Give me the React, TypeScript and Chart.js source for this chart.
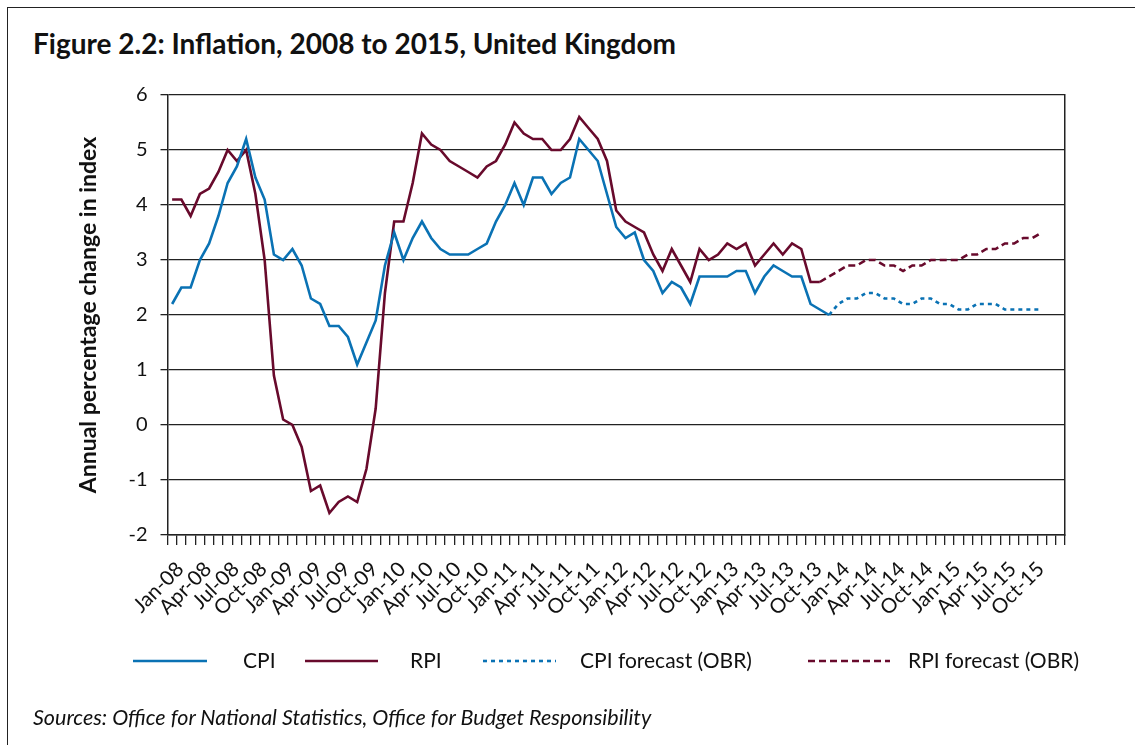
import React, { useEffect, useRef } from "react";
import { Chart, registerables } from "chart.js";
Chart.register(...registerables);

const categories: string[] = [
  "Jan-08","Feb-08","Mar-08","Apr-08","May-08","Jun-08","Jul-08","Aug-08","Sep-08","Oct-08","Nov-08","Dec-08",
  "Jan-09","Feb-09","Mar-09","Apr-09","May-09","Jun-09","Jul-09","Aug-09","Sep-09","Oct-09","Nov-09","Dec-09",
  "Jan-10","Feb-10","Mar-10","Apr-10","May-10","Jun-10","Jul-10","Aug-10","Sep-10","Oct-10","Nov-10","Dec-10",
  "Jan-11","Feb-11","Mar-11","Apr-11","May-11","Jun-11","Jul-11","Aug-11","Sep-11","Oct-11","Nov-11","Dec-11",
  "Jan-12","Feb-12","Mar-12","Apr-12","May-12","Jun-12","Jul-12","Aug-12","Sep-12","Oct-12","Nov-12","Dec-12",
  "Jan-13","Feb-13","Mar-13","Apr-13","May-13","Jun-13","Jul-13","Aug-13","Sep-13","Oct-13","Nov-13","Dec-13",
  "Jan-14","Feb-14","Mar-14","Apr-14","May-14","Jun-14","Jul-14","Aug-14","Sep-14","Oct-14","Nov-14","Dec-14",
  "Jan-15","Feb-15","Mar-15","Apr-15","May-15","Jun-15","Jul-15","Aug-15","Sep-15","Oct-15","Nov-15","Dec-15",
  "",
];

// Jan-08 .. Dec-13
const cpiActual: number[] = [
  2.2, 2.5, 2.5, 3.0, 3.3, 3.8, 4.4, 4.7, 5.2, 4.5, 4.1, 3.1,
  3.0, 3.2, 2.9, 2.3, 2.2, 1.8, 1.8, 1.6, 1.1, 1.5, 1.9, 2.9,
  3.5, 3.0, 3.4, 3.7, 3.4, 3.2, 3.1, 3.1, 3.1, 3.2, 3.3, 3.7,
  4.0, 4.4, 4.0, 4.5, 4.5, 4.2, 4.4, 4.5, 5.2, 5.0, 4.8, 4.2,
  3.6, 3.4, 3.5, 3.0, 2.8, 2.4, 2.6, 2.5, 2.2, 2.7, 2.7, 2.7,
  2.7, 2.8, 2.8, 2.4, 2.7, 2.9, 2.8, 2.7, 2.7, 2.2, 2.1, 2.0,
];

// Jan-08 .. Nov-13
const rpiActual: number[] = [
  4.1, 4.1, 3.8, 4.2, 4.3, 4.6, 5.0, 4.8, 5.0, 4.2, 3.0, 0.9,
  0.1, 0.0, -0.4, -1.2, -1.1, -1.6, -1.4, -1.3, -1.4, -0.8, 0.3, 2.4,
  3.7, 3.7, 4.4, 5.3, 5.1, 5.0, 4.8, 4.7, 4.6, 4.5, 4.7, 4.8,
  5.1, 5.5, 5.3, 5.2, 5.2, 5.0, 5.0, 5.2, 5.6, 5.4, 5.2, 4.8,
  3.9, 3.7, 3.6, 3.5, 3.1, 2.8, 3.2, 2.9, 2.6, 3.2, 3.0, 3.1,
  3.3, 3.2, 3.3, 2.9, 3.1, 3.3, 3.1, 3.3, 3.2, 2.6, 2.6,
];

// Dec-13 .. Nov-15
const cpiForecast: number[] = [
  2.0, 2.2, 2.3, 2.3, 2.4, 2.4, 2.3, 2.3, 2.2, 2.2, 2.3, 2.3,
  2.2, 2.2, 2.1, 2.1, 2.2, 2.2, 2.2, 2.1, 2.1, 2.1, 2.1, 2.1,
];

// Nov-13 .. Nov-15
const rpiForecast: number[] = [
  2.6, 2.7, 2.8, 2.9, 2.9, 3.0, 3.0, 2.9, 2.9, 2.8, 2.9, 2.9, 3.0,
  3.0, 3.0, 3.0, 3.1, 3.1, 3.2, 3.2, 3.3, 3.3, 3.4, 3.4, 3.5,
];

const yTicks: number[] = [-2, -1, 0, 1, 2, 3, 4, 5, 6];

const CPI_COLOR = "#0a72b4";
const RPI_COLOR = "#680a2c";
const FONT = "Lato";
const TEXT = "#111";

// legend layout (line start, line end, text x)
const LEGEND_Y = 661;
const LEGEND_POS = [
  { x0: 133, x1: 207, tx: 243 },
  { x0: 305, x1: 378, tx: 410 },
  { x0: 483, x1: 556, tx: 580 },
  { x0: 808, x1: 890, tx: 908 },
];

function place(values: number[], start: number): (number | null)[] {
  const out: (number | null)[] = categories.map(() => null);
  values.forEach((v, i) => {
    out[start + i] = v;
  });
  return out;
}

const legendPlugin = {
  id: "customLegend",
  afterDraw(chart: any) {
    const ctx = chart.ctx as CanvasRenderingContext2D;
    ctx.save();
    chart.data.datasets.forEach((ds: any, i: number) => {
      const p = LEGEND_POS[i];
      if (!p) return;
      ctx.strokeStyle = ds.borderColor;
      ctx.lineWidth = ds.borderWidth;
      ctx.setLineDash(ds.borderDash || []);
      ctx.lineCap = "butt";
      ctx.beginPath();
      ctx.moveTo(p.x0, LEGEND_Y);
      ctx.lineTo(p.x1, LEGEND_Y);
      ctx.stroke();
      ctx.setLineDash([]);
      ctx.fillStyle = TEXT;
      ctx.font = `21px ${FONT}`;
      ctx.textBaseline = "middle";
      ctx.textAlign = "left";
      ctx.fillText(ds.label, p.tx, LEGEND_Y);
    });
    ctx.restore();
  },
};

export default function App() {
  const ref = useRef<HTMLCanvasElement | null>(null);

  useEffect(() => {
    if (!ref.current) return;
    const chart = new Chart(ref.current, {
      type: "line",
      data: {
        labels: categories,
        datasets: [
          {
            label: "CPI",
            data: place(cpiActual, 0),
            borderColor: CPI_COLOR,
            backgroundColor: CPI_COLOR,
            borderWidth: 2.6,
            pointRadius: 0,
            tension: 0,
          },
          {
            label: "RPI",
            data: place(rpiActual, 0),
            borderColor: RPI_COLOR,
            backgroundColor: RPI_COLOR,
            borderWidth: 2.6,
            pointRadius: 0,
            tension: 0,
          },
          {
            label: "CPI forecast (OBR)",
            data: place(cpiForecast, 71),
            borderColor: CPI_COLOR,
            backgroundColor: CPI_COLOR,
            borderWidth: 2.6,
            borderDash: [4, 4],
            pointRadius: 0,
            tension: 0,
          },
          {
            label: "RPI forecast (OBR)",
            data: place(rpiForecast, 70),
            borderColor: RPI_COLOR,
            backgroundColor: RPI_COLOR,
            borderWidth: 2.6,
            borderDash: [7, 4],
            pointRadius: 0,
            tension: 0,
          },
        ],
      },
      plugins: [legendPlugin],
      options: {
        animation: false,
        responsive: false,
        maintainAspectRatio: false,
        layout: { padding: { left: 75, right: 70, top: 95, bottom: 100 } },
        plugins: {
          tooltip: { enabled: false },
          title: { display: false },
          legend: { display: false },
        },
        scales: {
          x: {
            type: "category",
            offset: true,
            grid: {
              offset: true,
              drawOnChartArea: false,
              drawTicks: true,
              tickLength: 10,
              color: "#222",
              lineWidth: 1.3,
            },
            border: { display: true, color: "#222", width: 1.5 },
            ticks: {
              autoSkip: false,
              maxRotation: 45,
              minRotation: 45,
              padding: 12,
              labelOffset: 8,
              color: TEXT,
              font: { family: FONT, size: 20.5 },
              callback: (_v: any, i: number) =>
                i % 3 === 0 && categories[i] ? categories[i] : "",
            },
            afterFit: (s: any) => {
              s.height = 110;
            },
          },
          y: {
            min: -2,
            max: 6,
            afterBuildTicks: (s: any) => {
              s.ticks = yTicks.map((v) => ({ value: v }));
            },
            grid: {
              color: "#222",
              lineWidth: 1.3,
              drawTicks: true,
              tickLength: 7,
            },
            border: { display: true, color: "#222", width: 1.5 },
            ticks: {
              padding: 13,
              color: TEXT,
              font: { family: FONT, size: 20 },
            },
            title: {
              display: true,
              text: "Annual percentage change in index",
              color: TEXT,
              font: { family: FONT, size: 23, weight: "bold" },
              padding: { top: 0, bottom: 0 },
            },
            afterFit: (s: any) => {
              s.width = 92.5;
            },
          },
          y2: {
            position: "right",
            display: true,
            min: -2,
            max: 6,
            grid: { drawOnChartArea: false, drawTicks: false },
            border: { display: true, color: "#222", width: 1.5 },
            ticks: { display: false },
            afterFit: (s: any) => {
              s.width = 0;
            },
          },
        },
      },
    });
    return () => chart.destroy();
  }, []);

  return (
    <div
      style={{
        position: "fixed",
        left: 0,
        top: 0,
        width: 1135,
        height: 745,
        background: "#fff",
        overflow: "hidden",
      }}
    >
      <div
        style={{
          position: "absolute",
          left: 7,
          top: 7,
          width: 1200,
          height: 800,
          borderTop: "1.5px solid #222",
          borderLeft: "1.5px solid #222",
        }}
      />
      <div
        style={{
          position: "absolute",
          left: 33,
          top: 26,
          fontFamily: FONT,
          fontWeight: "bold",
          fontSize: 28,
          color: TEXT,
          whiteSpace: "nowrap",
        }}
      >
        Figure 2.2: Inflation, 2008 to 2015, United Kingdom
      </div>
      <canvas
        ref={ref}
        width={1135}
        height={745}
        style={{ position: "absolute", left: 0, top: 0, width: 1135, height: 745 }}
      />
      <div
        style={{
          position: "absolute",
          left: 33,
          top: 704,
          fontFamily: FONT,
          fontStyle: "italic",
          fontSize: 21.5,
          color: TEXT,
          whiteSpace: "nowrap",
        }}
      >
        Sources: Office for National Statistics, Office for Budget Responsibility
      </div>
    </div>
  );
}
